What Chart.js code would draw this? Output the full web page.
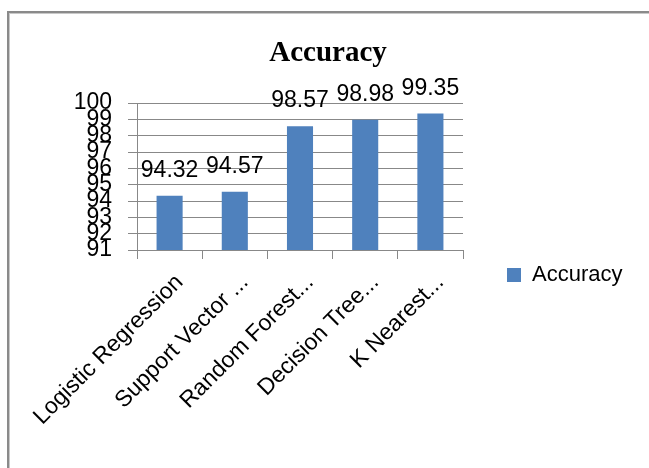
<!DOCTYPE html>
<html>
<head>
<meta charset="utf-8">
<script src="https://cdn.jsdelivr.net/npm/chart.js@4/dist/chart.umd.min.js"></script>
<style>
  html, body { margin: 0; padding: 0; background: #ffffff; }
  #wrap { position: relative; width: 649px; height: 468px; overflow: hidden; }
  #frame { position: absolute; left: 7px; top: 11px; width: 700px; height: 520px;
           border-left: 2px solid #8a8a8a; border-top: 2px solid #8a8a8a;
           box-shadow: inset 1px 1px 0 #c8c8c8; }
  canvas { position: absolute; left: 0; top: 0; }
</style>
</head>
<body>
<div id="wrap">
  <div id="frame"></div>
  <canvas id="c" width="649" height="468"></canvas>
</div>
<script>
const categories = ["Logistic Regression", "Support Vector ...", "Random Forest...", "Decision Tree...", "K Nearest..."];
const accuracyValues = [94.32, 94.57, 98.57, 98.98, 99.35];
const seriesName = "Accuracy";
const chartTitle = "Accuracy";
const yTickMin = 91;
const yTickMax = 100;

const SANS = "'Liberation Sans', Arial, sans-serif";
const gridGray = "#888888";

const valueLabels = {
  id: 'valueLabels',
  afterDatasetsDraw(chart) {
    const ctx = chart.ctx;
    const meta = chart.getDatasetMeta(0);
    ctx.save();
    ctx.font = "23px " + SANS;
    ctx.fillStyle = "#000000";
    ctx.textAlign = "center";
    ctx.textBaseline = "alphabetic";
    meta.data.forEach((bar, i) => {
      const v = chart.data.datasets[0].data[i];
      ctx.fillText(v.toFixed(2), bar.x, bar.y - 19);
    });
    ctx.restore();
  }
};

new Chart(document.getElementById('c'), {
  type: 'bar',
  data: {
    labels: categories,
    datasets: [{
      label: seriesName,
      data: accuracyValues,
      backgroundColor: '#4F81BD',
      borderColor: '#4F81BD',
      borderWidth: 0,
      barPercentage: 0.4,
      categoryPercentage: 1.0
    }]
  },
  options: {
    responsive: false,
    animation: false,
    layout: { padding: { left: 7, right: 0, top: 0, bottom: 0 } },
    plugins: {
      title: {
        display: true,
        text: chartTitle,
        color: '#000000',
        font: { family: "'Liberation Serif', 'Times New Roman', serif", size: 29, weight: 'bold', lineHeight: 1.2 },
        padding: { top: 36, bottom: 32.2 }
      },
      legend: {
        display: true,
        position: 'right',
        title: { display: true, text: '', font: { size: 1, lineHeight: 1 }, padding: { top: 81, bottom: 0 } },
        labels: {
          color: '#000000',
          font: { family: SANS, size: 22 },
          boxWidth: 14,
          boxHeight: 14,
          padding: 44
        }
      },
      tooltip: { enabled: false }
    },
    scales: {
      x: {
        grid: { display: true, drawOnChartArea: false, offset: true, tickLength: 9, color: gridGray },
        border: { display: true, color: gridGray },
        ticks: {
          color: '#000000',
          font: { family: SANS, size: 23 },
          minRotation: 45,
          maxRotation: 45,
          autoSkip: false,
          labelOffset: 10,
          padding: 10
        },
        afterFit(scale) {
          scale.height = 218;
          scale.paddingLeft = 0;
          scale.paddingRight = 186;
        }
      },
      y: {
        min: yTickMin,
        max: yTickMax,
        grid: { display: true, color: gridGray, tickLength: 9, drawTicks: true },
        border: { display: true, color: gridGray },
        ticks: {
          stepSize: 1,
          autoSkip: false,
          color: '#000000',
          font: { family: SANS, size: 23 },
          padding: 16
        },
        afterFit(scale) {
          scale.width = 130;
          scale.paddingTop = 0;
          scale.paddingBottom = 0;
        }
      }
    }
  },
  plugins: [valueLabels]
});
</script>
</body>
</html>
